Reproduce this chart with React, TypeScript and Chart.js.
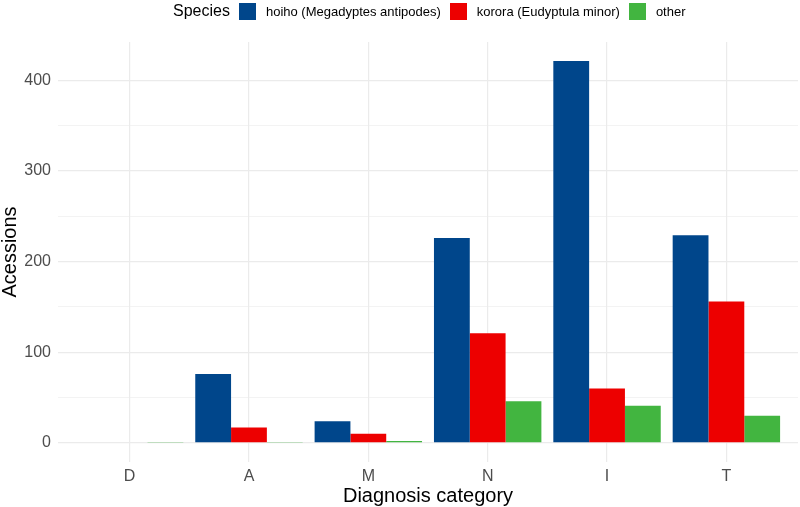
import { useEffect, useRef } from 'react';
import { Chart, registerables } from 'chart.js';

Chart.register(...registerables);

const categories = ['D', 'A', 'M', 'N', 'I', 'T'];
const speciesNames = ['hoiho (Megadyptes antipodes)', 'korora (Eudyptula minor)', 'other'];
const speciesColors = ['#00468B', '#ED0000', '#42B540'];
const hoiho = [0, 76, 24, 226, 421, 229];
const korora = [0, 17, 10, 121, 60, 156];
const other = [1, 1, 2, 46, 41, 30];
const yTicks = [0, 100, 200, 300, 400];

const FONT = "'Liberation Sans', Arial, sans-serif";

export default function App() {
  const canvasRef = useRef<HTMLCanvasElement>(null);

  useEffect(() => {
    if (!canvasRef.current) return;
    document.body.style.margin = '0';

    const series = [hoiho, korora, other];
    const maxVal = Math.max(...series.flat());
    const pad = maxVal * 0.05;
    // major + minor breaks like ggplot
    const yBreaks: number[] = [];
    yTicks.forEach((t, i) => {
      yBreaks.push(t);
      if (i < yTicks.length - 1) yBreaks.push((t + yTicks[i + 1]) / 2);
    });

    const chart = new Chart(canvasRef.current, {
      type: 'bar',
      data: {
        datasets: series.map((vals, s) => ({
          label: speciesNames[s],
          data: vals.map((v, i) => ({ x: i + 1, y: v })),
          backgroundColor: speciesColors[s],
          borderWidth: 0,
          categoryPercentage: 0.9,
          barPercentage: 1,
        })),
      },
      options: {
        animation: false,
        responsive: false,
        maintainAspectRatio: false,
        layout: { padding: { top: 42, right: 2, left: 0, bottom: 0 } },
        plugins: {
          legend: { display: false },
          tooltip: { enabled: false },
        },
        scales: {
          x: {
            type: 'linear',
            min: 0.4,
            max: categories.length + 0.6,
            offset: false,
            afterBuildTicks: (scale: any) => {
              scale.ticks = categories.map((_, i) => ({ value: i + 1 }));
            },
            afterFit: (scale: any) => {
              scale.height = 45;
            },
            ticks: {
              callback: (v: any) => categories[Number(v) - 1] ?? '',
              color: '#4D4D4D',
              font: { family: FONT, size: 16 },
              padding: 5,
              maxRotation: 0,
              autoSkip: false,
            },
            grid: { color: '#EBEBEB', lineWidth: 1.2, drawTicks: false, offset: false },
            border: { display: false },
            title: {
              display: true,
              text: 'Diagnosis category',
              color: '#000000',
              font: { family: FONT, size: 20, lineHeight: 1 },
              padding: { top: 0, bottom: 1 },
            },
          },
          y: {
            min: -pad,
            max: maxVal + pad,
            afterBuildTicks: (scale: any) => {
              scale.ticks = yBreaks.map((v) => ({ value: v }));
            },
            afterFit: (scale: any) => {
              scale.width = 58;
            },
            ticks: {
              callback: (v: any) => (yTicks.includes(Number(v)) ? String(v) : ''),
              color: '#4D4D4D',
              font: { family: FONT, size: 16 },
              padding: 7,
            },
            grid: {
              color: '#EBEBEB',
              lineWidth: (ctx: any) => (yTicks.includes(ctx.tick?.value) ? 1.2 : 0.6),
              drawTicks: false,
            },
            border: { display: false },
            title: {
              display: true,
              text: 'Acessions',
              color: '#000000',
              font: { family: FONT, size: 20, lineHeight: 1 },
              padding: { top: 0, bottom: 0 },
            },
          },
        },
      },
    });

    return () => chart.destroy();
  }, []);

  return (
    <div style={{ position: 'absolute', left: 0, top: 0, width: 800, height: 507, fontFamily: FONT, background: '#fff' }}>
      <canvas ref={canvasRef} width={800} height={507} style={{ width: 800, height: 507 }}></canvas>
      <div
        style={{
          position: 'absolute',
          left: 173,
          top: 1,
          height: 20,
          display: 'flex',
          alignItems: 'center',
          whiteSpace: 'nowrap',
        }}
      >
        <span style={{ fontSize: 16, color: '#000', marginRight: 9 }}>Species</span>
        {speciesNames.map((name, i) => (
          <span key={name} style={{ display: 'flex', alignItems: 'center', marginRight: 9 }}>
            <span style={{ width: 17, height: 17, background: speciesColors[i], display: 'inline-block', marginRight: 10 }}></span>
            <span style={{ fontSize: 13, color: '#000' }}>{name}</span>
          </span>
        ))}
      </div>
    </div>
  );
}
